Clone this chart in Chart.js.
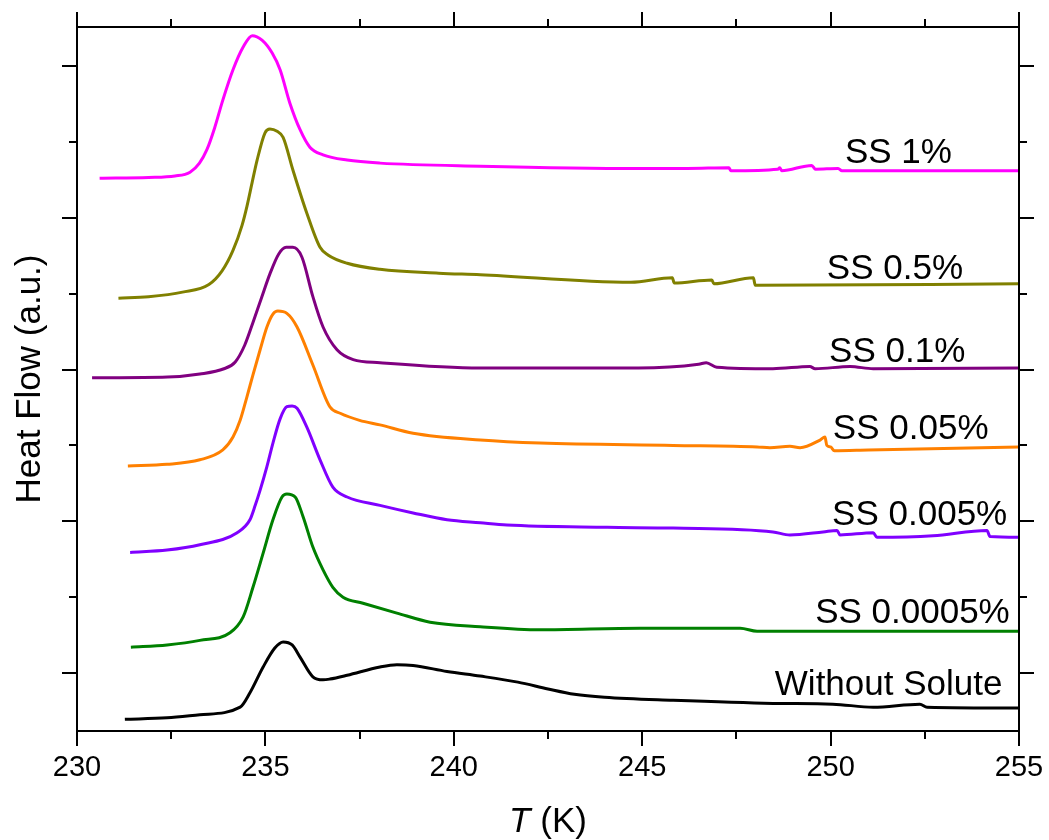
<!DOCTYPE html>
<html>
<head>
<meta charset="utf-8">
<script src="https://cdn.jsdelivr.net/npm/chart.js@4/dist/chart.umd.min.js"></script>
<style>
html,body{margin:0;padding:0;background:#fff;}
#wrap{width:1049px;height:840px;}
</style>
</head>
<body>
<div id="wrap"><canvas id="c" width="1049" height="840"></canvas></div>
<script>
// ---------- data (T in K, heat flow in arbitrary offset units) ----------
const T_SS1    = [230.6,231.9,232.6,233.0,233.25,233.45,233.65,233.87,234.14,234.41,234.65,234.91,235.18,235.39,235.65,235.92,236.18,236.53,237.17,238.04,240.7,244.9,246.2,247.3,247.35,248.6,248.65,248.7,249.5,249.6,250.2,250.3,255];
const HF_SS1   = [6.52,6.53,6.55,6.60,6.72,6.90,7.18,7.55,7.95,8.25,8.40,8.34,8.17,7.95,7.51,7.16,6.93,6.83,6.76,6.72,6.68,6.65,6.65,6.66,6.62,6.64,6.66,6.62,6.69,6.64,6.65,6.62,6.62];

const T_SS05   = [231.1,231.9,232.8,233.5,233.85,234.14,234.38,234.51,234.65,234.78,234.99,235.12,235.31,235.47,235.73,236.10,236.45,236.66,237.17,238.04,239.6,240.7,244.7,245.8,245.85,246.85,246.9,247.95,248.0,255];
const HF_SS05  = [4.94,4.96,5.02,5.12,5.30,5.57,5.90,6.15,6.47,6.76,7.12,7.17,7.14,7.06,6.63,6.06,5.61,5.51,5.40,5.32,5.27,5.25,5.15,5.21,5.14,5.18,5.13,5.21,5.11,5.13];

const T_SS01   = [230.4,232.4,233.26,233.9,234.2,234.45,234.67,234.9,235.12,235.35,235.55,235.73,235.97,236.26,236.53,236.9,237.33,238.04,240.7,244.9,246.5,246.7,246.98,248.47,249.45,249.59,250.52,251.13,255];
const HF_SS01  = [3.89,3.90,3.94,4.01,4.10,4.32,4.62,4.95,5.26,5.52,5.61,5.61,5.48,4.96,4.56,4.26,4.13,4.09,4.02,4.02,4.07,4.09,4.03,4.01,4.04,4.01,4.04,4.01,4.02];

const T_SS005  = [231.35,232.39,233.26,233.87,234.14,234.33,234.51,234.67,234.86,235.04,235.2,235.33,235.57,235.84,236.26,236.71,237.0,237.5,238.04,238.92,240.7,242.29,245.82,248.05,248.39,248.92,249.19,249.72,249.85,249.9,250.0,250.1,251.0,255];
const HF_SS005 = [2.73,2.75,2.81,2.94,3.11,3.33,3.64,3.93,4.26,4.56,4.73,4.77,4.74,4.56,4.06,3.51,3.42,3.33,3.27,3.16,3.07,3.03,3.00,2.98,2.97,2.99,2.97,3.07,3.11,3.00,2.98,2.93,2.94,2.98];

const T_SS0005  = [231.41,232.39,233.26,234.25,234.59,234.73,234.86,235.04,235.2,235.39,235.57,235.71,235.84,236.1,236.45,236.79,237.17,238.04,238.92,239.82,240.7,241.41,244.07,245.82,248.47,248.92,249.8,250.17,250.25,251.13,251.23,252.72,254.15,254.23,255];
const HF_SS0005 = [1.59,1.62,1.69,1.85,2.02,2.21,2.41,2.72,3.03,3.35,3.51,3.52,3.49,3.24,2.81,2.45,2.32,2.21,2.11,2.02,1.98,1.95,1.92,1.91,1.86,1.82,1.86,1.88,1.82,1.85,1.79,1.81,1.88,1.80,1.79];

const T_SS00005  = [231.43,232.39,233.26,234.06,234.41,234.67,234.94,235.2,235.44,235.57,235.79,236.0,236.26,236.53,236.79,237.06,237.59,238.49,239.37,240.7,242.29,244.94,247.6,248.05,255];
const HF_SS00005 = [0.34,0.37,0.43,0.53,0.74,1.13,1.58,2.02,2.32,2.36,2.32,2.06,1.66,1.36,1.13,1.00,0.92,0.79,0.67,0.61,0.57,0.59,0.59,0.55,0.55];

const T_NONE   = [231.27,232.39,233.26,234.33,234.59,234.94,235.25,235.47,235.71,235.92,236.26,236.53,236.71,237.17,238.04,238.49,238.92,239.82,240.7,241.7,242.5,243.2,244.0,245.82,248.47,250.06,251.13,252.37,252.56,255];
const HF_NONE  = [-0.61,-0.59,-0.55,-0.45,-0.26,0.08,0.33,0.41,0.37,0.21,-0.05,-0.09,-0.08,-0.03,0.08,0.11,0.10,0.02,-0.04,-0.12,-0.21,-0.28,-0.32,-0.36,-0.40,-0.41,-0.45,-0.41,-0.45,-0.46];

const SERIES_NAMES = ['SS 1%','SS 0.5%','SS 0.1%','SS 0.05%','SS 0.005%','SS 0.0005%','Without Solute'];
const X_TICKS_MAJOR = [230,235,240,245,250,255];
const X_TICKS_MINOR = [232.5,237.5,242.5,247.5,252.5];
const Y_TICKS_MAJOR = [0,2,4,6,8];
const Y_TICKS_MINOR = [1,3,5,7];

// ---------- styling / layout ----------
const COLORS = ['#FF00FF','#808000','#800080','#FF8000','#8000FF','#008000','#000000'];
const LABEL_ANCHORS = [[250.38,6.72],[249.90,5.19],[249.96,4.10],[250.06,3.08],[250.04,1.95],[249.59,0.66],[248.52,-0.29]];
const FONT = '"Liberation Sans", Arial, Helvetica, sans-serif';

const seriesT = [T_SS1,T_SS05,T_SS01,T_SS005,T_SS0005,T_SS00005,T_NONE];
const seriesH = [HF_SS1,HF_SS05,HF_SS01,HF_SS005,HF_SS0005,HF_SS00005,HF_NONE];

const datasets = seriesT.map((ts,i)=>({
  label: SERIES_NAMES[i],
  data: ts.map((t,j)=>({x:t,y:seriesH[i][j]})),
  borderColor: COLORS[i],
  backgroundColor: COLORS[i],
  borderWidth: 3,
  pointRadius: 0,
  fill: false,
  cubicInterpolationMode: 'monotone',
  borderJoinStyle: 'round',
  borderCapStyle: 'butt'
}));

const framePlugin = {
  id: 'frame',
  afterDraw(chart){
    const ctx = chart.ctx, a = chart.chartArea;
    const xs = chart.scales.x, ys = chart.scales.y;
    ctx.save();
    ctx.strokeStyle = '#000';
    ctx.lineWidth = 2;
    ctx.lineCap = 'butt';
    ctx.strokeRect(a.left, a.top, a.right - a.left, a.bottom - a.top);
    ctx.beginPath();
    const tickX = (v, len) => {
      const p = Math.round(xs.getPixelForValue(v));
      ctx.moveTo(p, a.bottom); ctx.lineTo(p, a.bottom + len);
      ctx.moveTo(p, a.top); ctx.lineTo(p, a.top - len);
    };
    const tickY = (v, len) => {
      const p = Math.round(ys.getPixelForValue(v));
      ctx.moveTo(a.left, p); ctx.lineTo(a.left - len, p);
      ctx.moveTo(a.right, p); ctx.lineTo(a.right + len, p);
    };
    X_TICKS_MAJOR.forEach(v=>tickX(v,15));
    X_TICKS_MINOR.forEach(v=>tickX(v,8));
    Y_TICKS_MAJOR.forEach(v=>tickY(v,15));
    Y_TICKS_MINOR.forEach(v=>tickY(v,8));
    ctx.stroke();

    // series labels
    ctx.fillStyle = '#000';
    ctx.font = '35px ' + FONT;
    ctx.textAlign = 'left';
    ctx.textBaseline = 'alphabetic';
    SERIES_NAMES.forEach((n,i)=>{
      ctx.fillText(n, xs.getPixelForValue(LABEL_ANCHORS[i][0]), ys.getPixelForValue(LABEL_ANCHORS[i][1]));
    });

    // y title
    ctx.save();
    ctx.translate(40, (a.top + a.bottom)/2);
    ctx.rotate(-Math.PI/2);
    ctx.textAlign = 'center';
    ctx.font = '35px ' + FONT;
    ctx.fillText('Heat Flow (a.u.)', 0, 0);
    ctx.restore();

    // x title: italic T + (K)
    const italic = 'italic 35px ' + FONT, normal = '35px ' + FONT;
    ctx.font = italic; const w1 = ctx.measureText('T').width;
    ctx.font = normal; const w2 = ctx.measureText(' (K)').width;
    const cx = (a.left + a.right)/2, x0 = cx - (w1+w2)/2, by = 832;
    ctx.textAlign = 'left';
    ctx.font = italic; ctx.fillText('T', x0, by);
    ctx.font = normal; ctx.fillText(' (K)', x0 + w1, by);
    ctx.restore();
  }
};

new Chart(document.getElementById('c'), {
  type: 'line',
  data: { datasets },
  options: {
    responsive: false,
    animation: false,
    devicePixelRatio: 1,
    layout: { padding: 0 },
    plugins: { legend: {display:false}, tooltip: {enabled:false}, title:{display:false} },
    scales: {
      x: {
        type: 'linear', position: 'bottom', min: 230, max: 255,
        ticks: { stepSize: 5, color: '#000', font: { size: 29, family: FONT }, padding: 20, maxRotation: 0, autoSkip: false },
        grid: { display: false, drawTicks: false },
        border: { display: false },
        afterFit: s => { s.height = 109; s.paddingLeft = 0; s.paddingRight = 0; }
      },
      xTop: {
        type: 'linear', position: 'top', min: 230, max: 255,
        ticks: { display: false },
        grid: { display: false, drawTicks: false },
        border: { display: false },
        afterFit: s => { s.height = 27; s.paddingLeft = 0; s.paddingRight = 0; }
      },
      y: {
        type: 'linear', position: 'left', min: -0.764, max: 8.514,
        ticks: { display: false },
        grid: { display: false, drawTicks: false },
        border: { display: false },
        afterFit: s => { s.width = 77; s.paddingTop = 0; s.paddingBottom = 0; }
      },
      yRight: {
        type: 'linear', position: 'right', min: -0.764, max: 8.514,
        ticks: { display: false },
        grid: { display: false, drawTicks: false },
        border: { display: false },
        afterFit: s => { s.width = 30; s.paddingTop = 0; s.paddingBottom = 0; }
      }
    }
  },
  plugins: [framePlugin]
});
</script>
</body>
</html>
